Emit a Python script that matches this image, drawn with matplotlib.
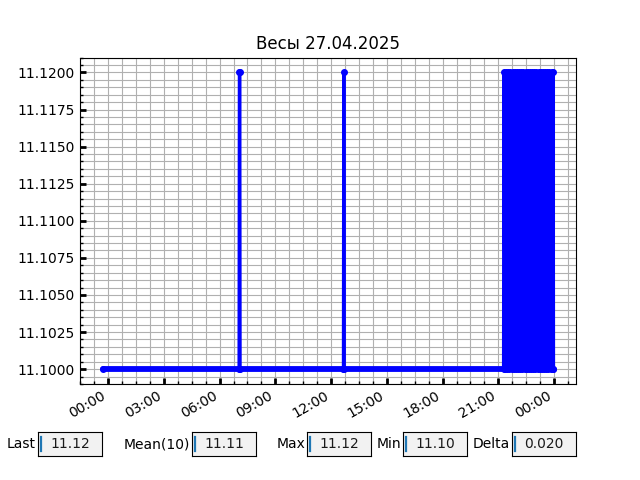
from datetime import datetime

import matplotlib
matplotlib.use('Agg')
import matplotlib.dates as mdates
from matplotlib import pyplot as plt
from matplotlib.ticker import AutoMinorLocator

# readings: time stamps and weight
base_times = ['2025-04-26 23:42', '2025-04-27 07:03', '2025-04-27 07:04', '2025-04-27 07:05',
              '2025-04-27 07:06', '2025-04-27 12:40', '2025-04-27 12:41', '2025-04-27 12:42',
              '2025-04-27 21:17']
base_weight = [11.10, 11.10, 11.12, 11.12, 11.10, 11.10, 11.12, 11.10, 11.10]

# evening: the scale jumps between the two values
dense_times = ['21:18', '21:22', '21:25', '21:29', '21:32', '21:36', '21:39', '21:43', '21:46', '21:50',
               '21:53', '21:57', '22:00', '22:04', '22:07', '22:11', '22:14', '22:18', '22:21', '22:25',
               '22:28', '22:32', '22:35', '22:39', '22:42', '22:46', '22:49', '22:53', '22:56', '23:00',
               '23:03', '23:07', '23:10', '23:14', '23:17', '23:21', '23:24', '23:28', '23:31', '23:35',
               '23:38', '23:42', '23:45', '23:49', '23:52', '23:55', '23:57', '23:58']
dense_weight = [11.12, 11.10, 11.12, 11.10, 11.12, 11.10, 11.12, 11.10, 11.12, 11.10,
                11.12, 11.10, 11.12, 11.10, 11.12, 11.10, 11.12, 11.10, 11.12, 11.10,
                11.12, 11.10, 11.12, 11.10, 11.12, 11.10, 11.12, 11.10, 11.12, 11.10,
                11.12, 11.10, 11.12, 11.10, 11.12, 11.10, 11.12, 11.10, 11.12, 11.10,
                11.12, 11.10, 11.12, 11.10, 11.12, 11.10, 11.12, 11.10]

stat_labels = ['Last', 'Mean(10)', 'Max', 'Min', 'Delta']
stat_texts = ['11.12', '11.11', '11.12', '11.10', '0.020']
box_lefts = [38, 192, 307, 403, 512]  # px

times = [datetime.strptime(s, '%Y-%m-%d %H:%M') for s in base_times]
times += [datetime.strptime('2025-04-27 ' + s, '%Y-%m-%d %H:%M') for s in dense_times]
weight = base_weight + dense_weight

fig = plt.figure(figsize=(6.4, 4.8), dpi=100)
ax = fig.add_axes([0.125, 0.2, 0.775, 0.68])

# flat parts are dense with markers in the original -> thicker band
w_min = min(weight)
for i in range(len(weight) - 1):
    if weight[i] == w_min and weight[i + 1] == w_min:
        ax.plot(times[i:i + 2], weight[i:i + 2], color='blue', lw=4.2, solid_capstyle='round')
ax.plot(times, weight, color='blue', lw=2.4, marker='o', ms=4)

ax.set_title('Весы 27.04.2025', fontsize=12)
ax.xaxis.set_major_locator(mdates.HourLocator(byhour=range(0, 24, 3)))
ax.xaxis.set_major_formatter(mdates.DateFormatter('%H:%M'))
ax.xaxis.set_minor_locator(AutoMinorLocator(4))
ax.yaxis.set_minor_locator(AutoMinorLocator(5))
ax.yaxis.set_major_formatter(matplotlib.ticker.FormatStrFormatter('%.4f'))
ax.grid(which='both', color='#b0b0b0', lw=0.8)
ax.tick_params(which='major', direction='in', length=4, width=2)
ax.tick_params(which='minor', direction='in', length=2, width=1)
for lbl in ax.get_xticklabels():
    lbl.set_rotation(30)
    lbl.set_ha('right')

for label, text, x0 in zip(stat_labels, stat_texts, box_lefts):
    bax = fig.add_axes([x0 / 640, 24 / 480, 64 / 640, 24 / 480])
    bax.set_facecolor('0.95')
    bax.set_xticks([])
    bax.set_yticks([])
    bax.set_xlim(0, 1)
    bax.set_ylim(0, 1)
    bax.text(-0.03, 0.5, label, ha='right', va='center', fontsize=10, transform=bax.transAxes)
    bax.plot([0.05, 0.05], [0.2, 0.8], color='C0', lw=1.6)
    bax.text(0.19, 0.5, text, ha='left', va='center', fontsize=10, color='0.1')

fig.savefig('out.png', dpi=100)
